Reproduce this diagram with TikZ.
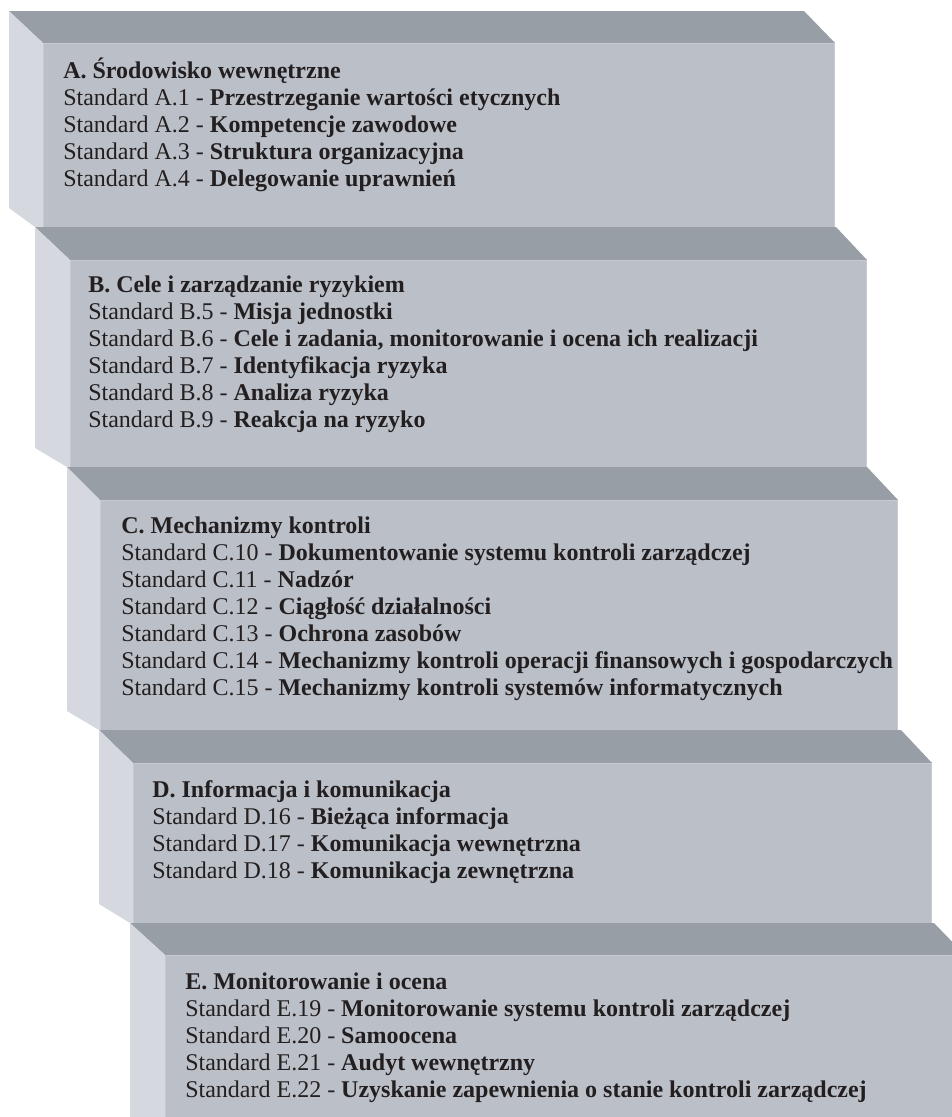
\documentclass[tikz,border=0pt]{standalone}
\usepackage{fontspec}
\setmainfont{Liberation Serif}
\usetikzlibrary{positioning}

\definecolor{topgray}{HTML}{979EA6}
\definecolor{sidegray}{HTML}{D5D9DF}
\definecolor{frontgray}{HTML}{BBC0C8}
\definecolor{rimgray}{HTML}{C7CBD1}
\definecolor{textdark}{HTML}{231F20}

\begin{document}
\begin{tikzpicture}[
    x=0.75pt, y=-0.75pt,
    topface/.style={fill=topgray},
    sideface/.style={fill=sidegray},
    frontface/.style={fill=frontgray},
    rim/.style={draw=rimgray, line width=1.1pt},
    stdtext/.style={anchor=north west, inner sep=0pt, align=left,
        text=textdark, font=\fontsize{18}{20.25}\selectfont},
]
\useasboundingbox (0,0) rectangle (952,1117);
\clip (0,0) rectangle (952,1117);

% the five steps: outer x, front x, top, front top, front bottom, right, next outer x
\foreach \ox/\fx/\ty/\ft/\fb/\rx/\nx in {
    9/43/11/43/227/835/35,
    35/70/227/260/467/867/67,
    67/100/467/500/730/898/99,
    99/133/730/763/923/932/130,
    130/165/923/955/1150/965/165}
{
    \fill[topface] (\ox,\ty) -- (\rx-31,\ty) -- (\rx,\ft) -- (\fx,\ft) -- cycle;
    \fill[sideface] (\ox,\ty) -- (\fx,\ft) -- (\fx,\fb) -- (\nx,\fb) -- (\ox,\fb-19) -- cycle;
    \fill[frontface] (\fx,\ft) rectangle (\rx,\fb);
    \draw[rim] (\fx+0.7,\fb) -- (\fx+0.7,\ft+0.7) -- (\rx-0.7,\ft+0.7) -- (\rx-0.7,\fb);
}

\node[stdtext] (secA) at (63,56) {\rule{0pt}{16.5pt}\textbf{A. Środowisko wewnętrzne}\\
    Standard A.1 - \textbf{Przestrzeganie wartości etycznych}\\
    Standard A.2 - \textbf{Kompetencje zawodowe}\\
    Standard A.3 - \textbf{Struktura organizacyjna}\\
    Standard A.4 - \textbf{Delegowanie uprawnień}};

\node[stdtext] (secB) at (88,270) {\rule{0pt}{16.5pt}\textbf{B. Cele i zarządzanie ryzykiem}\\
    Standard B.5 - \textbf{Misja jednostki}\\
    Standard B.6 - \textbf{Cele i zadania, monitorowanie i ocena ich realizacji}\\
    Standard B.7 - \textbf{Identyfikacja ryzyka}\\
    Standard B.8 - \textbf{Analiza ryzyka}\\
    Standard B.9 - \textbf{Reakcja na ryzyko}};

\node[stdtext] (secC) at (121,511) {\rule{0pt}{16.5pt}\textbf{C. Mechanizmy kontroli}\\
    Standard C.10 - \textbf{Dokumentowanie systemu kontroli zarządczej}\\
    Standard C.11 - \textbf{Nadzór}\\
    Standard C.12 - \textbf{Ciągłość działalności}\\
    Standard C.13 - \textbf{Ochrona zasobów}\\
    Standard C.14 - \textbf{Mechanizmy kontroli operacji finansowych i gospodarczych}\\
    Standard C.15 - \textbf{Mechanizmy kontroli systemów informatycznych}};

\node[stdtext] (secD) at (152,775) {\rule{0pt}{16.5pt}\textbf{D. Informacja i komunikacja}\\
    Standard D.16 - \textbf{Bieżąca informacja}\\
    Standard D.17 - \textbf{Komunikacja wewnętrzna}\\
    Standard D.18 - \textbf{Komunikacja zewnętrzna}};

\node[stdtext] (secE) at (185,967) {\rule{0pt}{16.5pt}\textbf{E. Monitorowanie i ocena}\\
    Standard E.19 - \textbf{Monitorowanie systemu kontroli zarządczej}\\
    Standard E.20 - \textbf{Samoocena}\\
    Standard E.21 - \textbf{Audyt wewnętrzny}\\
    Standard E.22 - \textbf{Uzyskanie zapewnienia o stanie kontroli zarządczej}};
\end{tikzpicture}
\end{document}
